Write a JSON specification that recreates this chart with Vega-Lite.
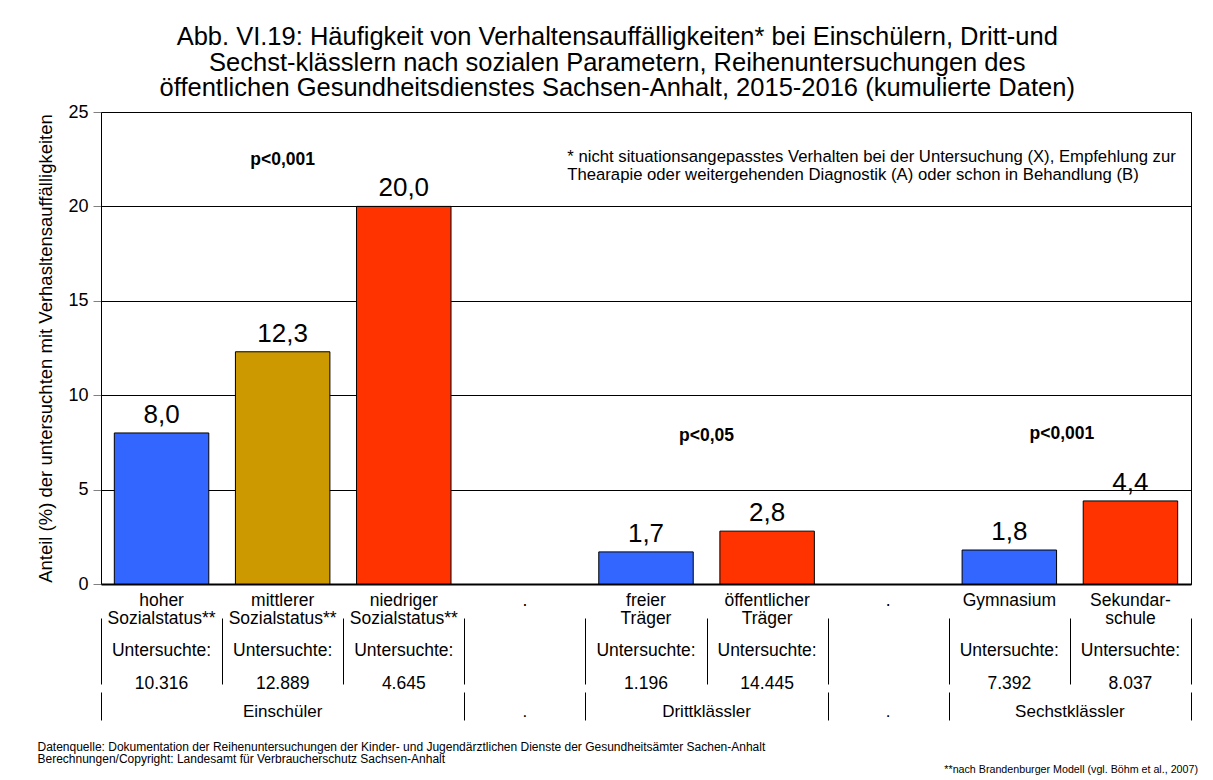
{
  "$schema": "https://vega.github.io/schema/vega-lite/v6.json",
  "background": "white",
  "padding": {"left": 36, "top": 25, "right": 10, "bottom": 0},
  "config": {
    "font": "Liberation Sans",
    "locale": {"number": {"decimal": ",", "thousands": ".", "grouping": [3], "currency": ["", " €"]}},
    "view": {"stroke": null},
    "text": {"color": "black"},
    "axis": {"minExtent": 0}
  },
  "datasets": {
    "rows": [
      {"cat": "hoher", "label": "hoher\nSozialstatus**", "value": 8.0, "n": 10316},
      {"cat": "mittlerer", "label": "mittlerer\nSozialstatus**", "value": 12.3, "n": 12889},
      {"cat": "niedriger", "label": "niedriger\nSozialstatus**", "value": 20.0, "n": 4645},
      {"cat": "p1", "label": ".\n "},
      {"cat": "freier", "label": "freier\nTräger", "value": 1.7, "n": 1196},
      {"cat": "öffentlicher", "label": "öffentlicher\nTräger", "value": 2.8, "n": 14445},
      {"cat": "p2", "label": ".\n "},
      {"cat": "Gymnasium", "label": "Gymnasium\n ", "value": 1.8, "n": 7392},
      {"cat": "Sekundar", "label": "Sekundar-\nschule", "value": 4.4, "n": 8037}
    ],
    "groups": [
      {"g": "Einschüler", "cat": "mittlerer", "kind": "center"},
      {"g": ".", "cat": "p1", "kind": "center"},
      {"g": "Drittklässler", "cat": "freier", "kind": "edge"},
      {"g": ".", "cat": "p2", "kind": "center"},
      {"g": "Sechstklässler", "cat": "Gymnasium", "kind": "edge"}
    ]
  },
  "title": {
    "text": [
      "Abb. VI.19: Häufigkeit von Verhaltensauffälligkeiten* bei Einschülern, Dritt-und",
      "Sechst-klässlern nach sozialen Parametern, Reihenuntersuchungen des",
      "öffentlichen Gesundheitsdienstes Sachsen-Anhalt, 2015-2016 (kumulierte Daten)"
    ],
    "fontSize": 25.5,
    "fontWeight": "normal",
    "lineHeight": 25.5,
    "color": "black",
    "anchor": "middle",
    "offset": 1
  },
  "spacing": 0,
  "bounds": "flush",
  "vconcat": [
    {
      "width": 1090,
      "height": 472,
      "view": {"stroke": "black", "strokeWidth": 1},
      "data": {"name": "rows"},
      "encoding": {
        "x": {
          "field": "cat", "type": "nominal", "sort": null,
          "scale": {"domain": ["hoher", "mittlerer", "niedriger", "p1", "freier", "öffentlicher", "p2", "Gymnasium", "Sekundar"], "paddingInner": 0, "paddingOuter": 0},
          "axis": {"labels": false, "ticks": false, "title": null, "grid": false, "domainColor": "black", "domainWidth": 2, "minExtent": 0, "maxExtent": 0}
        }
      },
      "layer": [
        {
          "transform": [{"filter": "isValid(datum.value)"}],
          "mark": {"type": "bar", "stroke": "black", "strokeWidth": 1, "width": {"band": 0.78}},
          "encoding": {
            "y": {
              "field": "value", "type": "quantitative",
              "scale": {"domain": [0, 25], "nice": false},
              "axis": {
                "title": "Anteil (%) der untersuchten mit Verhasltensauffälligkeiten",
                "titleFontSize": 18.5, "titleFontWeight": "normal", "titleColor": "black", "titlePadding": 12,
                "values": [0, 5, 10, 15, 20, 25],
                "labelFontSize": 18, "labelColor": "black", "labelPadding": 5,
                "tickSize": 8, "tickColor": "#808080",
                "domainColor": "black",
                "grid": true, "gridColor": "black", "gridWidth": 1
              }
            },
            "color": {
              "field": "cat", "type": "nominal", "legend": null,
              "scale": {"domain": ["hoher", "mittlerer", "niedriger", "freier", "öffentlicher", "Gymnasium", "Sekundar"],
                        "range": ["#3366FF", "#CC9900", "#FF3300", "#3366FF", "#FF3300", "#3366FF", "#FF3300"]}
            }
          }
        },
        {
          "transform": [{"filter": "isValid(datum.value)"}],
          "mark": {"type": "text", "fontSize": 26, "baseline": "alphabetic", "dy": -10},
          "encoding": {
            "y": {"field": "value", "type": "quantitative"},
            "text": {"field": "value", "type": "quantitative", "format": ".1f"}
          }
        },
        {
          "data": {"values": [{"t": "p<0,001"}]},
          "mark": {"type": "text", "fontSize": 17.5, "fontWeight": "bold", "baseline": "middle"},
          "encoding": {
            "x": {"datum": "mittlerer", "type": "nominal"},
            "y": {"datum": 22.45, "type": "quantitative"},
            "text": {"field": "t"}
          }
        },
        {
          "data": {"values": [{"t": "p<0,05"}]},
          "mark": {"type": "text", "fontSize": 17.5, "fontWeight": "bold", "baseline": "middle"},
          "encoding": {
            "x": {"datum": "freier", "type": "nominal", "bandPosition": 1},
            "y": {"datum": 7.85, "type": "quantitative"},
            "text": {"field": "t"}
          }
        },
        {
          "data": {"values": [{"t": "p<0,001"}]},
          "mark": {"type": "text", "fontSize": 17.5, "fontWeight": "bold", "baseline": "middle", "dx": -8},
          "encoding": {
            "x": {"datum": "Gymnasium", "type": "nominal", "bandPosition": 1},
            "y": {"datum": 7.95, "type": "quantitative"},
            "text": {"field": "t"}
          }
        },
        {
          "data": {"values": [{"t": "* nicht situationsangepasstes Verhalten bei der Untersuchung (X), Empfehlung zur\nThearapie oder weitergehenden Diagnostik (A) oder schon in Behandlung (B)"}]},
          "mark": {"type": "text", "fontSize": 16.7, "align": "left", "baseline": "middle", "lineBreak": "\n", "lineHeight": 18},
          "encoding": {
            "x": {"datum": "p1", "type": "nominal", "bandPosition": 0.85},
            "y": {"datum": 22.62, "type": "quantitative"},
            "text": {"field": "t"}
          }
        }
      ]
    },
    {
      "width": 1090,
      "height": 108,
      "data": {"name": "rows"},
      "encoding": {
        "x": {
          "field": "cat", "type": "nominal", "sort": null,
          "scale": {"domain": ["hoher", "mittlerer", "niedriger", "p1", "freier", "öffentlicher", "p2", "Gymnasium", "Sekundar"], "paddingInner": 0, "paddingOuter": 0},
          "axis": {"orient": "top", "labels": false, "ticks": false, "domain": false, "title": null, "grid": true, "gridColor": "black", "gridWidth": 1, "tickBand": "extent", "minExtent": 0, "maxExtent": 0, "offset": 0}
        }
      },
      "layer": [
        {
          "mark": {"type": "text", "fontSize": 17.5, "lineBreak": "\n", "lineHeight": 18, "baseline": "middle", "dy": -17},
          "encoding": {
            "y": {"datum": "lab", "type": "nominal", "scale": {"domain": ["lab", "u", "n"], "range": [34, 100], "padding": 0}, "axis": null},
            "text": {"field": "label"}
          }
        },
        {
          "transform": [{"filter": "isValid(datum.n)"}],
          "mark": {"type": "text", "fontSize": 17.5, "baseline": "middle"},
          "encoding": {
            "y": {"datum": "u", "type": "nominal"},
            "text": {"value": "Untersuchte:"}
          }
        },
        {
          "transform": [{"filter": "isValid(datum.n)"}],
          "mark": {"type": "text", "fontSize": 17.5, "baseline": "middle"},
          "encoding": {
            "y": {"datum": "n", "type": "nominal"},
            "text": {"field": "n", "type": "quantitative", "format": ",d"}
          }
        }
      ]
    },
    {
      "width": 1090,
      "height": 28,
      "data": {"name": "groups"},
      "title": {"text": "**nach Brandenburger Modell (vgl. Böhm et al., 2007)", "orient": "bottom", "anchor": "end", "fontSize": 10.7, "fontWeight": "normal", "color": "black", "offset": 1, "dx": 7},
      "encoding": {
        "x": {
          "field": "cat", "type": "nominal", "sort": null,
          "scale": {"domain": ["hoher", "mittlerer", "niedriger", "p1", "freier", "öffentlicher", "p2", "Gymnasium", "Sekundar"], "paddingInner": 0, "paddingOuter": 0},
          "axis": {
            "orient": "bottom", "labels": false, "ticks": false, "domain": false,
            "grid": true, "gridColor": "black", "gridWidth": 1, "tickBand": "extent",
            "values": ["hoher", "niedriger", "p1", "öffentlicher", "p2", "Sekundar"],
            "gridOpacity": {"condition": {"test": "datum.value === 'hoher'", "value": 0}, "value": 1},
            "title": ["Datenquelle: Dokumentation der Reihenuntersuchungen der Kinder- und Jugendärztlichen Dienste der Gesundheitsämter Sachen-Anhalt", "Berechnungen/Copyright: Landesamt für Verbraucherschutz Sachsen-Anhalt"],
            "titleFontSize": 12, "titleFontWeight": "normal", "titleColor": "black",
            "titleAnchor": "start", "titleAlign": "left", "titleBaseline": "top",
            "titleX": -64, "titleY": 21, "titleLineHeight": 12, "minExtent": 0
          }
        }
      },
      "layer": [
        {
          "transform": [{"filter": "datum.kind === 'center'"}],
          "mark": {"type": "text", "fontSize": 17, "baseline": "middle", "dy": 6},
          "encoding": {"text": {"field": "g"}}
        },
        {
          "transform": [{"filter": "datum.kind === 'edge'"}],
          "mark": {"type": "text", "fontSize": 17, "baseline": "middle", "dy": 6},
          "encoding": {
            "x": {"field": "cat", "type": "nominal", "bandPosition": 1},
            "text": {"field": "g"}
          }
        }
      ]
    }
  ]
}
